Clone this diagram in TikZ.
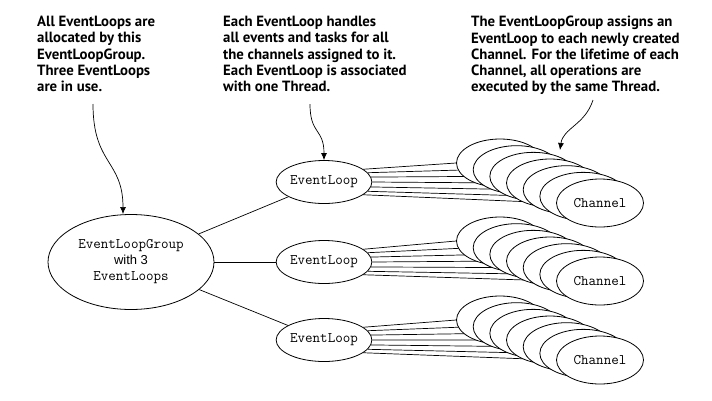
\documentclass[tikz,border=0pt]{standalone}
\usepackage{fontspec}
\setmainfont{Liberation Sans}
\newfontfamily\codefont{Latin Modern Mono}
\newfontfamily\calloutfont{PT Sans}
\usetikzlibrary{shapes.geometric,arrows.meta,backgrounds}
\begin{document}
\begin{tikzpicture}[x=1pt,y=-1pt,
  callout/.style={anchor=north west, align=left, inner sep=0pt,
    font=\calloutfont\bfseries\fontsize{14.8}{16.3}\selectfont},
  oval/.style={ellipse, draw, fill=white, line width=0.8pt, inner sep=0pt},
  loopnode/.style={oval, minimum width=80pt, minimum height=43pt,
    font=\codefont\fontsize{14.6}{15}\selectfont},
  chan/.style={oval, minimum width=87pt, minimum height=48pt,
    font=\codefont\fontsize{14.6}{15}\selectfont},
  groupnode/.style={oval, minimum width=166pt, minimum height=95pt, align=center,
    font=\fontsize{13}{16}\selectfont},
  conn/.style={line width=0.7pt},
  pointer/.style={line width=0.7pt, -{Latex[length=7pt,width=6pt]}}]
\useasboundingbox (0,0) rectangle (712,400);

% callouts
\node[callout] (t1) at (37,16) {All EventLoops are\\allocated by this\\EventLoopGroup.\\Three EventLoops\\are in use.};
\node[callout] (t2) at (223,16) {Each EventLoop handles\\all events and tasks for all\\the channels assigned to it.\\Each EventLoop is associated\\with one Thread.};
\node[callout] (t3) at (471,16) {The EventLoopGroup assigns an\\EventLoop to each newly created\\Channel. For the lifetime of each\\Channel, all operations are\\executed by the same Thread.};

% group and loops
\node[groupnode] (g) at (131,262) {{\codefont\fontsize{14.6}{16}\selectfont EventLoopGroup}\\with 3\\{\codefont\fontsize{14.6}{16}\selectfont EventLoops}};
\node[loopnode] (e1) at (324,182) {EventLoop};
\node[loopnode] (e2) at (324,262) {EventLoop};
\node[loopnode] (e3) at (324,340) {EventLoop};

% channels, back to front (only the front one shows its label)
\foreach \i/\cy in {1/203,2/281,3/360}{
  \foreach \k in {0,...,5}{
    \node[chan] (c\i\k) at ({500+16.667*\k},{\cy-40+6.667*\k}) {};
  }
  \node[chan] (c\i6) at (600,\cy) {Channel};
}

\begin{scope}[on background layer]
  \foreach \i in {1,2,3}{
    \draw[conn] (g) -- (e\i);
    \foreach \k in {0,...,6}{
      \draw[conn] (e\i.{18-6*\k}) -- (c\i\k.west);
    }
  }
\end{scope}

% pointers
\coordinate (p1s) at (93,104);
\coordinate (p1e) at (123,214);
\coordinate (p2s) at (310,104);
\coordinate (p3s) at (593,100);
\coordinate (p3e) at (560,150);
\draw[pointer] (p1s) .. controls (93,165) and (123,160) .. (p1e);
\draw[pointer] (p2s) .. controls (310,135) and (324,128) .. (e1.north);
\draw[pointer] (p3s) .. controls (585,125) and (563,128) .. (p3e);
\end{tikzpicture}
\end{document}
